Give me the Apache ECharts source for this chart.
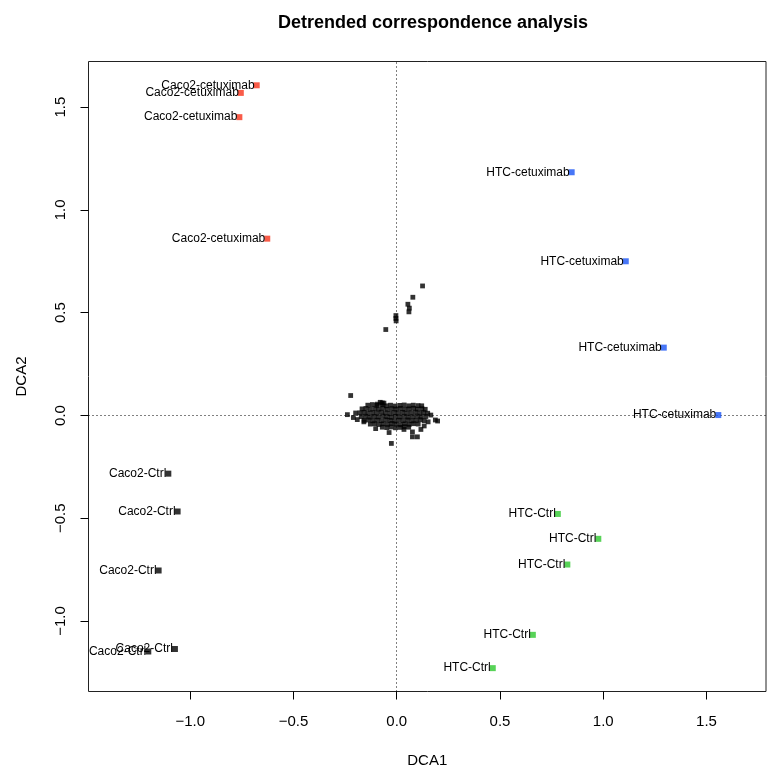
<!DOCTYPE html>
<html>
<head>
<meta charset="utf-8">
<title>Detrended correspondence analysis</title>
<script src="https://cdn.jsdelivr.net/npm/echarts@6/dist/echarts.min.js"></script>
<style>
  html, body { margin: 0; padding: 0; background: #fff; }
  #chart { width: 768px; height: 767px; }
</style>
</head>
<body>
<div id="chart"></div>
<script>
// Site scores, one pair of arrays per sample group
const caco2CetuxDCA1 = [-0.678, -0.755, -0.762, -0.627];
const caco2CetuxDCA2 = [1.606, 1.569, 1.451, 0.860];
const htcCetuxDCA1 = [0.847, 1.109, 1.293, 1.557];
const htcCetuxDCA2 = [1.183, 0.750, 0.330, 0.002];
const htcCtrlDCA1 = [0.780, 0.976, 0.826, 0.659, 0.465];
const htcCtrlDCA2 = [-0.479, -0.600, -0.725, -1.067, -1.229];
const caco2CtrlDCA1 = [-1.106, -1.061, -1.153, -1.074, -1.203];
const caco2CtrlDCA2 = [-0.283, -0.467, -0.754, -1.136, -1.148];

const groupNames = ['Caco2-cetuximab', 'HTC-cetuximab', 'HTC-Ctrl', 'Caco2-Ctrl'];
const groupColors = ['#f8331c', '#1a55f5', '#2ec82e', '#000000'];

// Species scores [DCA1, DCA2]
const speciesScores = [
  // points above the main cloud
  [0.125, 0.630], [0.078, 0.575], [0.054, 0.541], [0.061, 0.522], [0.059, 0.504],
  [-0.004, 0.486], [-0.004, 0.472], [-0.003, 0.460], [-0.053, 0.418],
  // scattered points around the cloud
  [-0.223, 0.097], [-0.239, 0.004], [-0.199, 0.012], [-0.210, -0.010], [-0.191, -0.020],
  [-0.159, -0.031], [-0.102, -0.064], [-0.037, -0.083], [-0.026, -0.136], [0.035, -0.068],
  [0.076, -0.080], [0.076, -0.104], [0.100, -0.104], [0.117, -0.068], [0.133, -0.051],
  [0.152, -0.031], [0.165, 0.002], [0.198, -0.027], [0.187, -0.022], [-0.062, 0.060],
  [-0.094, 0.055], [-0.080, 0.064], [-0.070, 0.061],
  // dense cloud near the origin
  [-0.140, 0.050], [-0.118, 0.053], [-0.097, 0.049], [-0.072, 0.052], [-0.050, 0.047],
  [-0.030, 0.050], [-0.008, 0.046], [0.015, 0.049], [0.036, 0.051], [0.058, 0.047],
  [0.080, 0.050], [0.103, 0.048], [0.121, 0.047],
  [-0.168, 0.032], [-0.149, 0.034], [-0.128, 0.030], [-0.106, 0.033], [-0.087, 0.031],
  [-0.066, 0.035], [-0.045, 0.030], [-0.024, 0.033], [-0.003, 0.031], [0.018, 0.034],
  [0.039, 0.030], [0.060, 0.032], [0.081, 0.035], [0.100, 0.031], [0.122, 0.033], [0.138, 0.030],
  [-0.178, 0.013], [-0.158, 0.015], [-0.139, 0.011], [-0.117, 0.014], [-0.096, 0.012],
  [-0.075, 0.016], [-0.055, 0.013], [-0.034, 0.010], [-0.013, 0.014], [0.007, 0.012],
  [0.028, 0.015], [0.049, 0.011], [0.070, 0.013], [0.091, 0.016], [0.112, 0.012],
  [0.131, 0.014], [0.150, 0.011],
  [-0.172, -0.006], [-0.151, -0.004], [-0.130, -0.008], [-0.110, -0.005], [-0.089, -0.007],
  [-0.068, -0.003], [-0.047, -0.006], [-0.026, -0.009], [-0.006, -0.005], [0.015, -0.007],
  [0.036, -0.004], [0.057, -0.008], [0.078, -0.006], [0.099, -0.003], [0.119, -0.007], [0.141, -0.005],
  [-0.158, -0.024], [-0.137, -0.022], [-0.116, -0.026], [-0.095, -0.023], [-0.074, -0.025],
  [-0.053, -0.021], [-0.032, -0.024], [-0.011, -0.027], [0.010, -0.023], [0.031, -0.025],
  [0.052, -0.022], [0.073, -0.026], [0.094, -0.024], [0.114, -0.021], [0.133, -0.025],
  [-0.128, -0.042], [-0.107, -0.040], [-0.086, -0.044], [-0.065, -0.041], [-0.044, -0.043],
  [-0.023, -0.039], [-0.002, -0.042], [0.019, -0.045], [0.040, -0.041], [0.061, -0.043],
  [0.082, -0.040], [0.104, -0.042],
  [-0.070, -0.057], [-0.048, -0.059], [-0.027, -0.056], [-0.006, -0.060], [0.016, -0.058],
  [0.037, -0.055], [0.058, -0.057]
];

const xTicks = [-1.0, -0.5, 0.0, 0.5, 1.0, 1.5];
const yTicks = [-1.0, -0.5, 0.0, 0.5, 1.0, 1.5];

const FONT = "'Liberation Sans', Arial, Helvetica, sans-serif";

function pairs(xs, ys) { return xs.map((x, i) => [x, ys[i]]); }

const groups = [
  pairs(caco2CetuxDCA1, caco2CetuxDCA2),
  pairs(htcCetuxDCA1, htcCetuxDCA2),
  pairs(htcCtrlDCA1, htcCtrlDCA2),
  pairs(caco2CtrlDCA1, caco2CtrlDCA2)
];

// site labels: one row per site, [DCA1, DCA2, group index]
const labelRows = [];
groups.forEach((g, gi) => g.forEach(p => labelRows.push([p[0], p[1], gi])));

const fmt = v => v.toFixed(1).replace('-', '\u2212');

const chart = echarts.init(document.getElementById('chart'), null, { renderer: 'canvas' });

const siteSeries = groups.map((g, gi) => ({
  name: groupNames[gi],
  type: 'scatter',
  data: g,
  symbol: 'rect',
  symbolSize: 6,
  itemStyle: { color: groupColors[gi] },
  z: 3,
  silent: true
}));

chart.setOption({
  animation: false,
  backgroundColor: '#fff',
  title: {
    text: 'Detrended correspondence analysis',
    left: 428,
    top: 9,
    textAlign: 'center',
    textStyle: { fontFamily: FONT, fontSize: 18, fontWeight: 'bold', color: '#000' }
  },
  grid: {
    left: 88.5, right: 2, top: 61.5, bottom: 75.5,
    outerBoundsMode: 'none',
    containLabel: false,
    show: true, borderColor: '#222', borderWidth: 1, backgroundColor: 'transparent'
  },
  xAxis: {
    type: 'value',
    min: -1.4925, max: 1.788,
    name: 'DCA1', nameLocation: 'middle', nameGap: 62,
    nameTextStyle: { fontFamily: FONT, fontSize: 15, color: '#000' },
    axisLine: { show: false, onZero: false },
    splitLine: { show: false },
    axisTick: { show: true, inside: false, length: 8, customValues: xTicks, lineStyle: { color: '#000' } },
    axisLabel: {
      customValues: xTicks, margin: 23, formatter: fmt,
      fontFamily: FONT, fontSize: 15, color: '#000'
    }
  },
  yAxis: {
    type: 'value',
    min: -1.3426, max: 1.7217,
    name: 'DCA2', nameLocation: 'middle', nameGap: 59, nameRotate: 90,
    nameTextStyle: { fontFamily: FONT, fontSize: 15, color: '#000' },
    axisLine: { show: false, onZero: false },
    splitLine: { show: false },
    axisTick: { show: true, inside: false, length: 8, customValues: yTicks, lineStyle: { color: '#000' } },
    axisLabel: {
      customValues: yTicks, margin: 20, rotate: 90, formatter: fmt,
      fontFamily: FONT, fontSize: 15, color: '#000'
    }
  },
  series: [
    {
      name: 'species',
      type: 'scatter',
      data: speciesScores,
      symbol: 'rect',
      symbolSize: 4.8,
      itemStyle: { color: '#000' },
      z: 2,
      silent: true,
      markLine: {
        silent: true,
        symbol: 'none',
        label: { show: false },
        lineStyle: { color: '#000', width: 1, type: [1, 3] },
        data: [{ xAxis: 0 }, { yAxis: 0 }],
        z: 1
      }
    },
    ...siteSeries,
    {
      name: 'site labels',
      type: 'custom',
      data: labelRows,
      clip: true,
      z: 4,
      silent: true,
      renderItem: function (params, api) {
        const p = api.coord([api.value(0), api.value(1)]);
        return {
          type: 'text',
          x: p[0] - 2,
          y: p[1],
          style: {
            text: groupNames[api.value(2)],
            textAlign: 'right',
            textVerticalAlign: 'middle',
            font: '12px ' + FONT,
            fill: '#000'
          }
        };
      }
    }
  ]
});
</script>
</body>
</html>
